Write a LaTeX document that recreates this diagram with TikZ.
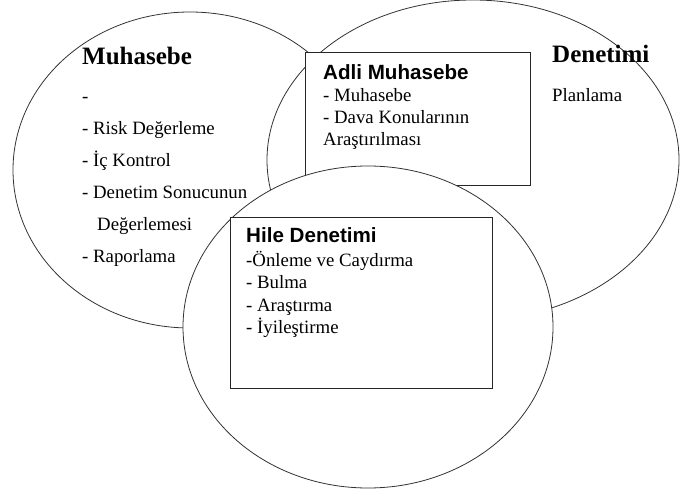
\documentclass[tikz,border=0pt]{standalone}
\usepackage{fontspec}
\setmainfont{Liberation Serif}
\setsansfont{Liberation Sans}
\usepackage{tikz}
\usetikzlibrary{shapes.geometric}

\tikzset{
    kume/.style={ellipse, draw=black!80, fill=white, line width=0.8pt, inner sep=0pt},
    kutu/.style={rectangle, draw=black!85, fill=white, line width=0.8pt, anchor=north west, inner sep=0pt},
    baslik/.style={anchor=base west, inner sep=0pt, font=\fontsize{25}{30}\selectfont\bfseries},
    kbaslik/.style={anchor=base west, inner sep=0pt, font=\fontsize{20.6}{24}\selectfont\sffamily\bfseries},
    madde/.style={anchor=base west, inner sep=0pt, font=\fontsize{18.8}{22}\selectfont}
}

\begin{document}
\begin{tikzpicture}[x=1pt, y=-1pt]
    \useasboundingbox (0,0) rectangle (680,494);

    % Muhasebe
    \node[kume, minimum width=354pt, minimum height=316pt] (muh) at (190,170) {};
    \node[baslik] (muhbas) at (82,65) {Muhasebe};
    \foreach \txt [count=\i] in {-, - Risk Değerleme, - İç Kontrol, - Denetim Sonucunun, \hspace*{15pt}Değerlemesi, - Raporlama}
        \node[madde] (muh\i) at (82, 71+32*\i) {\txt};

    % Denetimi
    \node[kume, minimum width=412pt, minimum height=320pt] (den) at (473,160) {};
    \node[baslik] (denbas) at (552,63) {Denetimi};
    \node[madde] (plan) at (552,102) {Planlama};

    % Adli Muhasebe
    \node[kutu, minimum width=225pt, minimum height=133pt] (adli) at (305,52) {};
    \node[kbaslik] (adlibas) at (323,80) {Adli Muhasebe};
    \foreach \txt [count=\i] in {- Muhasebe, - Dava Konularının, Araştırılması}
        \node[madde] (adli\i) at (323, 80+22*\i) {\txt};

    % Hile Denetimi
    \node[kume, minimum width=370pt, minimum height=322pt] (hile) at (368,327) {};
    \node[kutu, minimum width=262pt, minimum height=171pt] (hilekutu) at (230,217) {};
    \node[kbaslik] (hilebas) at (246,243) {Hile Denetimi};
    \foreach \txt [count=\i] in {-Önleme ve Caydırma, - Bulma, - Araştırma, - İyileştirme}
        \node[madde] (hile\i) at (246, 244+22.5*\i) {\txt};
\end{tikzpicture}
\end{document}
